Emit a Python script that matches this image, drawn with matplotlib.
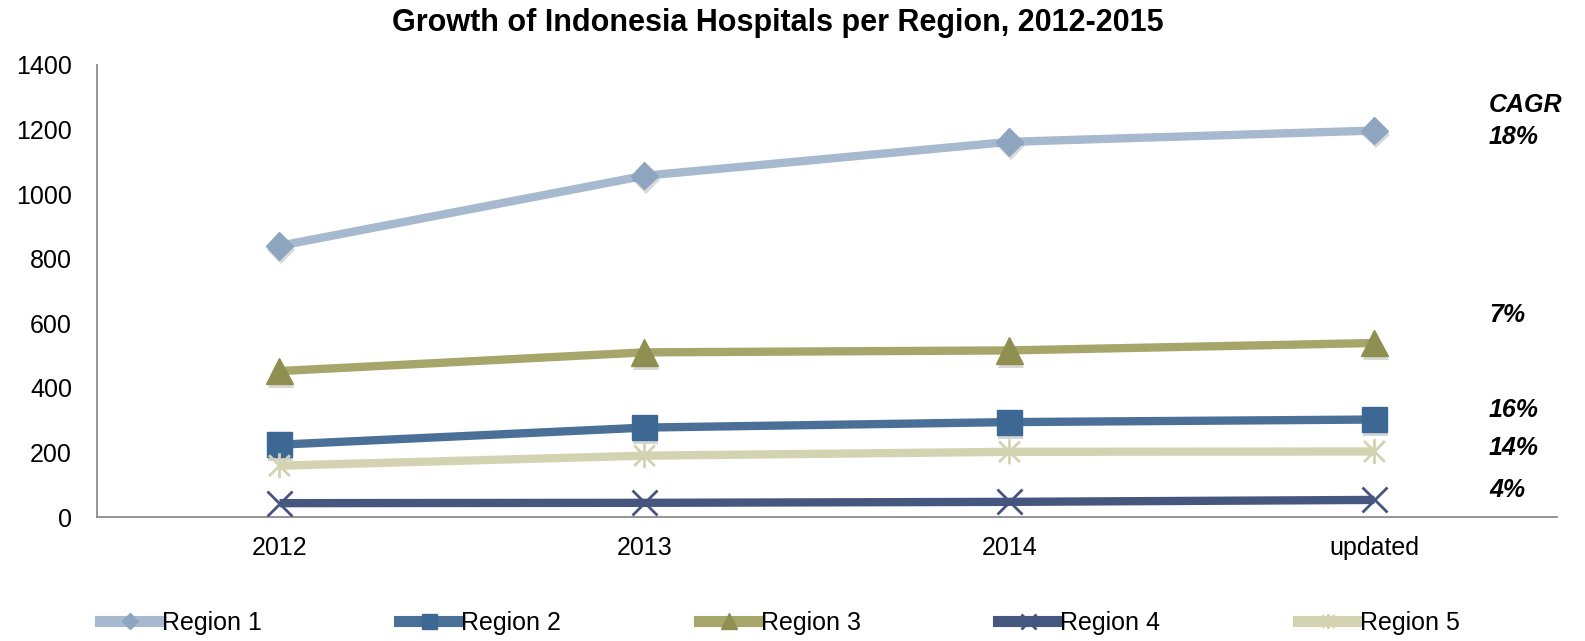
import matplotlib
matplotlib.use("Agg")
import matplotlib.pyplot as plt
import matplotlib.patheffects as pe
from matplotlib.lines import Line2D
from matplotlib.path import Path
from matplotlib.transforms import blended_transform_factory

plt.rcParams["font.family"] = ["Liberation Sans", "DejaVu Sans"]

years = ["2012", "2013", "2014", "updated"]
region_names = ["Region 1", "Region 2", "Region 3", "Region 4", "Region 5"]
region1 = [840, 1057, 1162, 1197]
region2 = [224, 277, 294, 302]
region3 = [452, 510, 516, 539]
region4 = [43, 44, 47, 53]
region5 = [159, 190, 202, 203]
cagr = ["18%", "16%", "7%", "4%", "14%"]

# excel style asterisk: an x with a vertical bar through it
star = Path([(-1, -1), (1, 1), (-1, 1), (1, -1), (0, -1.2), (0, 1.2)],
            [Path.MOVETO, Path.LINETO, Path.MOVETO, Path.LINETO, Path.MOVETO, Path.LINETO])

line_colors = ["#a6b9cf", "#4a7097", "#a6a66b", "#45577f", "#d3d3b1"]
mark_colors = ["#8ea5c0", "#3e6894", "#8f8f52", "#44567f", "#d3d3b1"]
markers = ["D", "s", "^", "x", star]
msizes = [14, 18, 19, 18, 18]
medge = [1, 1, 1, 2, 2]

fig = plt.figure(figsize=(15.85, 6.41), dpi=100)
ax = fig.add_axes([0.0612, 0.1934, 0.9211, 0.7052])

x = range(len(years))
series = [region1, region2, region3, region4, region5]
shadow = [pe.SimplePatchShadow(offset=(1, -3), alpha=0.18), pe.Normal()]
handles = []
for i, vals in enumerate(series):
    ax.plot(x, vals, color=line_colors[i], lw=6, solid_capstyle="butt", zorder=2 + i)
    ax.plot(x, vals, ls="none", marker=markers[i], markersize=msizes[i],
            markerfacecolor=mark_colors[i], markeredgecolor=mark_colors[i],
            markeredgewidth=medge[i], zorder=2.5 + i, path_effects=shadow)
    handles.append(Line2D([], [], color=line_colors[i], lw=8, marker=markers[i],
                          markersize=msizes[i] * 0.6, markerfacecolor=mark_colors[i],
                          markeredgecolor=mark_colors[i], markeredgewidth=medge[i]))

ax.set_xlim(-0.5, 3.5)
ax.set_ylim(0, 1400)
ax.set_yticks(range(0, 1401, 200))
ax.set_xticks(list(x))
ax.set_xticklabels(years)
ax.tick_params(length=0, labelsize=18)
ax.tick_params(axis="y", pad=18)
ax.tick_params(axis="x", pad=14)
for s in ["top", "right"]:
    ax.spines[s].set_visible(False)
for s in ["left", "bottom"]:
    ax.spines[s].set_color("#8c8c8c")
    ax.spines[s].set_linewidth(1.3)

fig.text(0.491, 0.964, "Growth of Indonesia Hospitals per Region, 2012-2015",
         fontsize=22, fontweight="bold", ha="center", va="center")

# CAGR notes on the right
notes = [("CAGR", 1276), (cagr[0], 1177), (cagr[2], 626), (cagr[1], 331),
         (cagr[4], 214), (cagr[3], 84)]
trans = blended_transform_factory(fig.transFigure, ax.transData)
for txt, yv in notes:
    ax.text(1489 / 1585, yv, txt, transform=trans, fontsize=18, fontweight="bold",
            style="italic", va="center", ha="left", clip_on=False)

fig.legend(handles, region_names, loc="center", bbox_to_anchor=(0.492, 0.028), ncol=5,
           frameon=False, fontsize=18, handlelength=2.4, handletextpad=0.08,
           columnspacing=5.5)

fig.savefig("out.png", dpi=100)
